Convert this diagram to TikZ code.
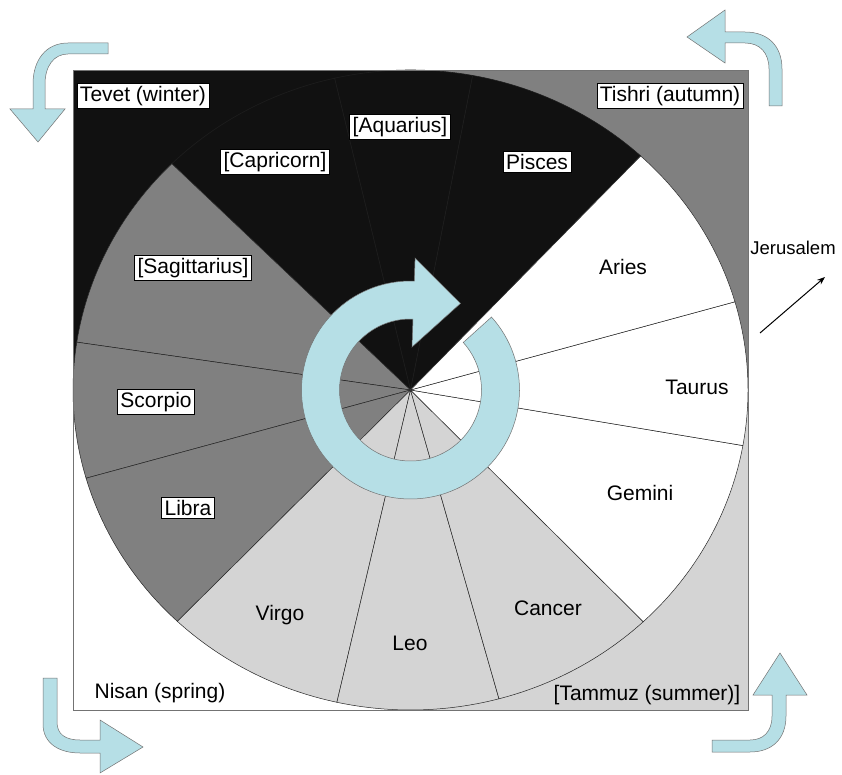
\documentclass[tikz,border=0pt]{standalone}
\usepackage{fontspec}
\setmainfont{Liberation Sans}
\usetikzlibrary{arrows.meta,calc}
\definecolor{wblack}{HTML}{111111}
\definecolor{wblackline}{HTML}{1E1E1E}
\definecolor{wdark}{HTML}{808080}
\definecolor{wlight}{HTML}{D4D4D4}
\definecolor{wcyan}{HTML}{B6DFE6}
\newcommand\wsector[3]{\filldraw[#3] (C) -- ++(#1:337.5 and 320) arc[start angle=#1, end angle=#2, x radius=337.5, y radius=320] -- cycle;}
\begin{document}
\begin{tikzpicture}[x=1pt,y=1pt,
  font=\fontsize{21}{25}\selectfont,
  lbl/.style={inner sep=1pt},
  boxlbl/.style={draw=black, fill=white, line width=0.6pt, inner xsep=3pt, inner ysep=2.5pt},
  seg/.style={draw=black!85, line width=0.5pt},
  blackseg/.style={fill=wblack, draw=wblackline, line width=0.6pt},
  darkseg/.style={fill=wdark, seg},
  lightseg/.style={fill=wlight, seg},
  whiteseg/.style={fill=white, seg},
  cyanshape/.style={fill=wcyan, draw=black!55, line width=0.5pt}]
\useasboundingbox (0,0) rectangle (842,774);
\fill[white] (0,0) rectangle (842,774);
\coordinate (C) at (410.5,384);
% season quadrants of the frame
\fill[wblack] (73,384) rectangle (410.5,704);
\fill[wdark] (410.5,384) rectangle (748,704);
\fill[wlight] (410.5,64) rectangle (748,384);
\fill[white] (73,64) rectangle (410.5,384);
% zodiac sectors
\wsector{47}{79.4}{blackseg}
\wsector{79.4}{103}{blackseg}
\wsector{103}{135}{blackseg}
\wsector{135}{171.4}{darkseg}
\wsector{171.4}{196}{darkseg}
\wsector{196}{226.3}{darkseg}
\wsector{226.3}{257.4}{lightseg}
\wsector{257.4}{285.2}{lightseg}
\wsector{285.2}{313.6}{lightseg}
\wsector{313.6}{350}{whiteseg}
\wsector{350}{376}{whiteseg}
\wsector{16}{47}{whiteseg}
% frame
\draw[black!55, line width=0.8pt] (73,64) rectangle (748,704);
% central circular arrow
\filldraw[cyanshape] ($(C)+(42:109)$) arc[start angle=42, end angle=-272, radius=109]
  -- ($(C)+(88:132)$) -- ($(C)+(60:100)$) -- ($(C)+(88:43)$) -- ($(C)+(88:71)$)
  arc[start angle=-272, end angle=42, radius=71] -- cycle;
% labels
\node[boxlbl] (tevet) at (143,678) {Tevet (winter)};
\node[boxlbl] (capricorn) at (275,612) {[Capricorn]};
\node[boxlbl] (aquarius) at (400,647) {[Aquarius]};
\node[boxlbl] (pisces) at (537,612) {Pisces};
\node[boxlbl] (tishri) at (670,678) {Tishri (autumn)};
\node[boxlbl] (sagittarius) at (193,506) {[Sagittarius]};
\node[boxlbl] (scorpio) at (156,372) {Scorpio};
\node[boxlbl] (libra) at (188,266) {Libra};
\node[lbl] (virgo) at (280,159) {Virgo};
\node[lbl] (leo) at (410,131) {Leo};
\node[lbl] (cancer) at (548,166) {Cancer};
\node[lbl] (gemini) at (640,281) {Gemini};
\node[lbl] (taurus) at (697,387) {Taurus};
\node[lbl] (aries) at (623,507) {Aries};
\node[lbl] (nisan) at (160,81) {Nisan (spring)};
\node[lbl] (tammuz) at (647,79) {[Tammuz (summer)]};
\node[lbl, font=\fontsize{18.5}{21}\selectfont] (jerusalem) at (793,526) {Jerusalem};
\coordinate (js) at (760,441);
\coordinate (je) at (825,497);
\draw[-{Stealth[length=8pt,width=6pt]}, line width=1pt] (js) -- (je);
% corner season arrows
\filldraw[cyanshape] (108,731) -- (68,731) .. controls (46,731) and (33,714) .. (33,690) -- (33,665)
  -- (10,665) -- (38,632) -- (65,665) -- (45,665) -- (45,690) .. controls (45,708) and (54,720) .. (68,720)
  -- (108,720) -- cycle;
\filldraw[cyanshape] (725,742) -- (745,742) .. controls (768,742) and (782,728) .. (782,705) -- (782,668)
  -- (769,668) -- (769,705) .. controls (769,721) and (760,731) .. (745,731) -- (725,731)
  -- (725,711) -- (687,737) -- (725,764) -- cycle;
\filldraw[cyanshape] (43,96) -- (43,50) .. controls (43,30) and (60,21) .. (80,21) -- (100,21)
  -- (100,1) -- (143,27) -- (100,54) -- (100,34) -- (80,34) .. controls (65,34) and (57,40) .. (57,52)
  -- (57,96) -- cycle;
\filldraw[cyanshape] (712,22) -- (750,22) .. controls (772,22) and (786,35) .. (786,58) -- (786,79)
  -- (807,79) -- (780,121) -- (753,79) -- (772,79) -- (772,58) .. controls (772,42) and (763,34) .. (750,34)
  -- (712,34) -- cycle;
\end{tikzpicture}
\end{document}
